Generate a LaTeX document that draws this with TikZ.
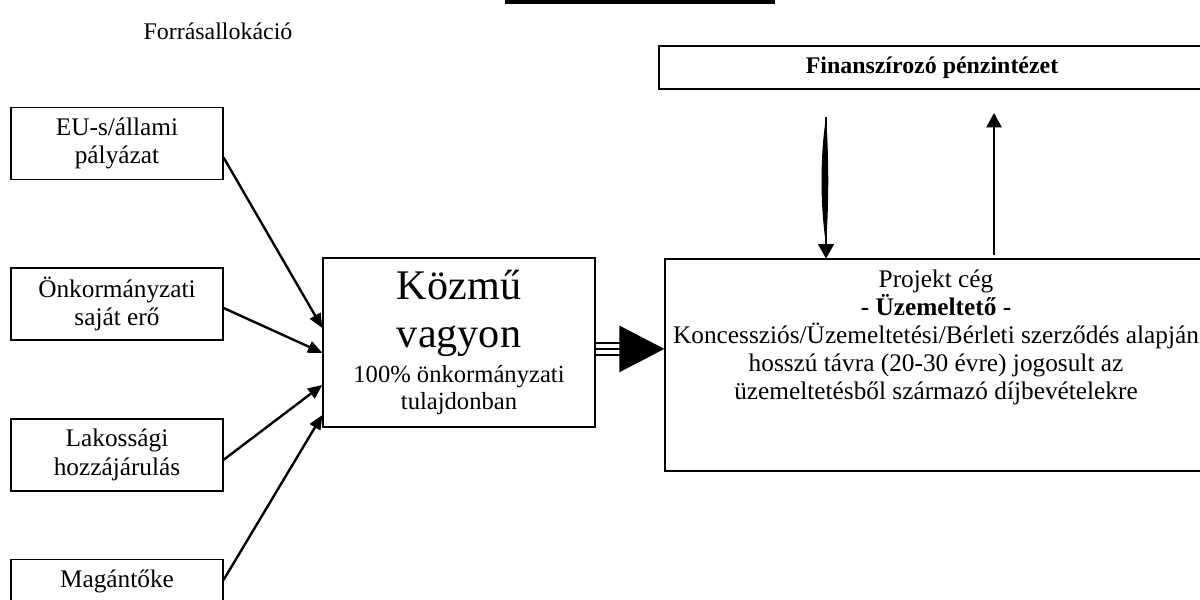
\documentclass[tikz,border=0pt]{standalone}
\usepackage{fontspec}
\setmainfont{Liberation Serif}
\usetikzlibrary{arrows.meta,positioning}

\begin{document}
\begin{tikzpicture}[x=0.025cm, y=-0.025cm,
    srcbox/.style={draw, line width=0.8pt, minimum width=5.3cm, minimum height=1.8cm,
        align=center, font=\fontsize{18}{20.5}\selectfont},
    bigbox/.style={draw, line width=0.8pt, align=center},
    flow/.style={-{Triangle[length=0.36cm, width=0.3cm]}, line width=1.7pt}]

\useasboundingbox (0,0) rectangle (1200,599);
\clip (0,0) rectangle (1200,599);

% top bar and heading
\fill (505,0) rectangle (775,3.5);
\node[font=\fontsize{17}{20}\selectfont] (title) at (218,31) {Forrásallokáció};

% sources
\node[srcbox] (eu) at (117,143.5) {EU-s/állami\\pályázat};
\node[srcbox] (onero) at (117,304) {Önkormányzati\\saját erő};
\node[srcbox] (lakos) at (117,455) {Lakossági\\hozzájárulás};
\node[srcbox] (magan) at (117,595.5) {Magántőke\\\phantom{g}};

% asset
\node[bigbox, minimum width=6.8cm, minimum height=4.225cm,
    font=\fontsize{17.5}{19.5}\selectfont] (kozmu) at (459,342.5)
    {{\fontsize{30}{30}\selectfont Közmű}\\[15pt]{\fontsize{30}{30}\selectfont vagyon}\\[5pt]
     100\% önkormányzati\\tulajdonban};

% operator
\node[bigbox, minimum width=13.55cm, minimum height=5.3cm] (projekt) at (936,365) {};
\node[align=center, anchor=north, inner sep=0pt, font=\fontsize{18}{20}\selectfont]
    (projekttext) at ([yshift=-0.28cm]projekt.north)
    {Projekt cég\\\textbf{- Üzemeltető -}\\
     Koncessziós/Üzemeltetési/Bérleti szerződés alapján\\
     hosszú távra (20-30 évre) jogosult az\\
     üzemeltetésből származó díjbevételekre};

% bank
\node[bigbox, minimum width=13.65cm, minimum height=1.075cm,
    font=\bfseries\fontsize{17}{19}\selectfont] (fin) at (932,67.5) {Finanszírozó pénzintézet};

% inflows
\draw[flow] ([yshift=-0.35cm]eu.east) -- ([yshift=0.36cm]kozmu.west);
\draw[flow] ([yshift=-0.1cm]onero.east) -- ([yshift=-0.26cm]kozmu.west);
\draw[flow] ([yshift=-0.12cm]lakos.east) -- ([yshift=-1.06cm]kozmu.west);
\draw[flow] ([yshift=0.39cm]magan.east) -- ([yshift=-1.81cm]kozmu.west);

% transfer to the operator
\foreach \dy in {-0.15,0.15}
    \draw[line width=0.07cm] ([yshift=-0.16cm+\dy cm]kozmu.east) -- ++(25,0);
\draw[-{Triangle[length=1.125cm, width=1.15cm]}, line width=0.07cm]
    ([yshift=-0.16cm]kozmu.east) -- ([yshift=-0.16cm]kozmu.east -| projekt.west);

% loan and repayment
\coordinate (dtop) at (826,117);
\coordinate (utop) at (994,113);
\draw[-{Triangle[length=0.36cm, width=0.4cm]}, line width=1.2pt] (dtop) -- (dtop |- projekt.north);
\fill (dtop) .. controls +(-6,40) and +(-6,-40) .. ([yshift=0.35cm]dtop |- projekt.north)
    .. controls +(3,-40) and +(3,40) .. (dtop);
\draw[-{Triangle[length=0.36cm, width=0.38cm]}, line width=1.4pt] ([yshift=0.08cm]utop |- projekt.north) -- (utop);

\end{tikzpicture}
\end{document}
